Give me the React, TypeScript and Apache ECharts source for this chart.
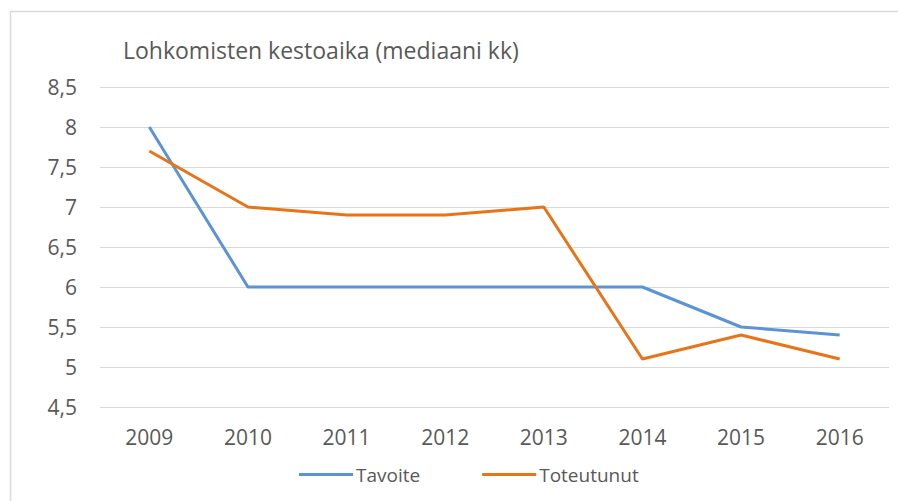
import React, { useEffect, useRef } from "react";
import * as echarts from "echarts";

const years = ["2009", "2010", "2011", "2012", "2013", "2014", "2015", "2016"];
const tavoite = [8, 6, 6, 6, 6, 6, 5.5, 5.4];
const toteutunut = [7.7, 7.0, 6.9, 6.9, 7.0, 5.1, 5.4, 5.1];
const titleText = "Lohkomisten kestoaika (mediaani kk)";
const seriesNames = ["Tavoite", "Toteutunut"];

const FONT = "'Open Sans', sans-serif";
const TXT = "#595959";
const BLUE = "#5B94D6";
const ORANGE = "#E97418";

export default function App() {
  const ref = useRef<HTMLDivElement>(null);
  useEffect(() => {
    if (!ref.current) return;
    const chart = echarts.init(ref.current, undefined, { renderer: "svg" });
    chart.setOption({
      animation: false,
      backgroundColor: "#ffffff",
      title: {
        text: titleText,
        left: 118,
        top: 33,
        textStyle: { fontFamily: FONT, fontSize: 23, fontWeight: "normal", color: TXT },
      },
      legend: {
        bottom: 12,
        left: 294,
        itemWidth: 54,
        itemHeight: 3,
        itemGap: 62,
        icon: "rect",
        data: seriesNames,
        textStyle: { fontFamily: FONT, fontSize: 19, color: TXT, padding: [0, 0, 0, -2] },
      },
      grid: { left: 100, right: 9, top: 87, bottom: 94 },
      xAxis: {
        type: "category",
        data: years,
        boundaryGap: true,
        axisLine: { show: false },
        axisTick: { show: false },
        axisLabel: { fontFamily: FONT, fontSize: 21, color: TXT, margin: 19 },
      },
      yAxis: {
        type: "value",
        min: 4.5,
        max: 8.5,
        interval: 0.5,
        axisLine: { show: false },
        axisTick: { show: false },
        splitLine: { lineStyle: { color: "#D9D9D9", width: 1 } },
        axisLabel: {
          fontFamily: FONT,
          fontSize: 21,
          color: TXT,
          margin: 23,
          formatter: (v: number) => String(v).replace(".", ","),
        },
      },
      series: [
        {
          name: seriesNames[0],
          type: "line",
          data: tavoite,
          showSymbol: false,
          symbol: "none",
          itemStyle: { color: BLUE },
          lineStyle: { color: BLUE, width: 3 },
        },
        {
          name: seriesNames[1],
          type: "line",
          data: toteutunut,
          showSymbol: false,
          symbol: "none",
          itemStyle: { color: ORANGE },
          lineStyle: { color: ORANGE, width: 3 },
        },
      ],
      graphic: [
        {
          type: "rect",
          shape: { x: 10.5, y: 11.5, width: 900, height: 500 },
          style: { fill: "none", stroke: "#D9D9D9", lineWidth: 1.5 },
          silent: true,
        },
      ],
    });
    return () => chart.dispose();
  }, []);
  return (
    <div
      ref={ref}
      style={{ position: "fixed", left: 0, top: 0, width: 898, height: 501 }}
    />
  );
}
